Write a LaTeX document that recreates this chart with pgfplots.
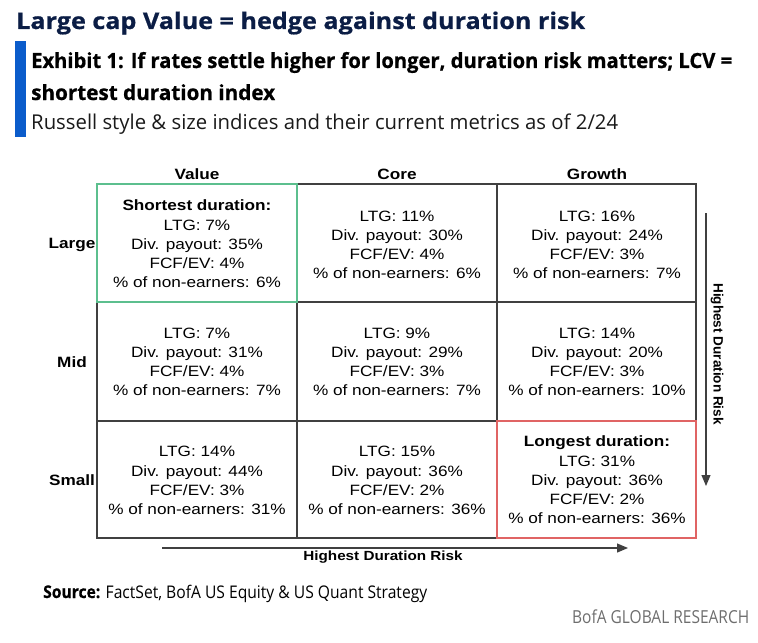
\documentclass[border=0pt]{standalone}
\usepackage{fontspec}
\setmainfont{Liberation Sans}
\newfontfamily\cellf[FakeStretch=1.15]{Liberation Sans}
\newfontfamily\osans{Open Sans}
\newfontfamily\osansh[BoldFeatures={FakeBold=0.7}]{Open Sans}
\usepackage{graphicx}
\usepackage{pgfplots}
\pgfplotsset{compat=1.18}
\usetikzlibrary{arrows.meta}
\definecolor{navy}{HTML}{0B1D45}
\definecolor{bofablue}{HTML}{0B5CCB}
\definecolor{gridgray}{HTML}{404040}
\definecolor{gridgreen}{HTML}{5CBF8E}
\definecolor{gridred}{HTML}{E06464}
\definecolor{txtgray}{HTML}{1A1A1A}
\definecolor{brandgray}{HTML}{6E6E6E}
\newcommand\fitw[2]{\resizebox{#1}{\height}{#2}}
\tikzset{
  cell/.style={align=center,inner sep=0,text=black,
    font=\cellf\fontsize{15}{19.3}\selectfont},
  head/.style={align=center,inner sep=0,text=black,
    font=\cellf\bfseries\fontsize{15}{19.3}\selectfont}}
\begin{document}
\begin{tikzpicture}
\begin{axis}[width=758bp,height=643bp,scale only axis,
  xmin=0,xmax=758,ymin=0,ymax=643,y dir=reverse,
  axis lines=none,clip=false]
\addplot[draw=none] coordinates {(0,0) (758,643)};
% titles
\node[anchor=base west,inner sep=0,text=navy] at (axis cs:16,29)
  {\fitw{569bp}{\osansh\bfseries\fontsize{23}{26}\selectfont Large cap Value = hedge against duration risk}};
\fill[bofablue] (axis cs:15,41) rectangle (axis cs:26,137);
\node[anchor=base west,inner sep=0,text=black] at (axis cs:31,68)
  {\fitw{701bp}{\osansh\bfseries\fontsize{21}{24}\selectfont Exhibit 1: If rates settle higher for longer, duration risk matters; LCV =}};
\node[anchor=base west,inner sep=0,text=black] at (axis cs:31,100)
  {\fitw{244bp}{\osansh\bfseries\fontsize{21}{24}\selectfont shortest duration index}};
\node[anchor=base west,inner sep=0,text=txtgray] at (axis cs:31,129)
  {\fitw{587bp}{\osans\fontsize{20.5}{24}\selectfont Russell style \& size indices and their current metrics as of 2/24}};
% grid
\draw[gridgray,line width=1.1bp] (axis cs:97,184) rectangle (axis cs:696,538);
\draw[gridgray,line width=1.1bp] (axis cs:297,184) -- (axis cs:297,538);
\draw[gridgray,line width=1.1bp] (axis cs:497,184) -- (axis cs:497,538);
\draw[gridgray,line width=1.1bp] (axis cs:97,302) -- (axis cs:696,302);
\draw[gridgray,line width=1.1bp] (axis cs:97,421) -- (axis cs:696,421);
\draw[gridgreen,line width=1.1bp] (axis cs:97,184) rectangle (axis cs:297,302);
\draw[gridred,line width=1.1bp] (axis cs:497,421) rectangle (axis cs:696,538);
% headers
\node[head] at (axis cs:197,174) {Value};
\node[head] at (axis cs:397,174) {Core};
\node[head] at (axis cs:597,174) {Growth};
\node[head] at (axis cs:72,245) {Large};
\node[head] at (axis cs:72,362) {Mid};
\node[head] at (axis cs:72,480) {Small};
% cells
\node[cell] at (axis cs:197,244) {\textbf{Shortest duration:}\\LTG: 7\%\\Div. payout: 35\%\\FCF/EV: 4\%\\\% of non-earners: 6\%};
\node[cell] at (axis cs:397,245) {LTG: 11\%\\Div. payout: 30\%\\FCF/EV: 4\%\\\% of non-earners: 6\%};
\node[cell] at (axis cs:597,245) {LTG: 16\%\\Div. payout: 24\%\\FCF/EV: 3\%\\\% of non-earners: 7\%};
\node[cell] at (axis cs:197,362) {LTG: 7\%\\Div. payout: 31\%\\FCF/EV: 4\%\\\% of non-earners: 7\%};
\node[cell] at (axis cs:397,362) {LTG: 9\%\\Div. payout: 29\%\\FCF/EV: 3\%\\\% of non-earners: 7\%};
\node[cell] at (axis cs:597,362) {LTG: 14\%\\Div. payout: 20\%\\FCF/EV: 3\%\\\% of non-earners: 10\%};
\node[cell] at (axis cs:197,480.5) {LTG: 14\%\\Div. payout: 44\%\\FCF/EV: 3\%\\\% of non-earners: 31\%};
\node[cell] at (axis cs:397,480.5) {LTG: 15\%\\Div. payout: 36\%\\FCF/EV: 2\%\\\% of non-earners: 36\%};
\node[cell] at (axis cs:597,480) {\textbf{Longest duration:}\\LTG: 31\%\\Div. payout: 36\%\\FCF/EV: 2\%\\\% of non-earners: 36\%};
% arrows
\draw[gridgray,line width=1.2bp,-{Triangle[length=11bp,width=9bp]}] (axis cs:162,548) -- (axis cs:628,548);
\node[head,font=\cellf\bfseries\fontsize{13.3}{16}\selectfont] at (axis cs:383,557.5) {Highest Duration Risk};
\draw[gridgray,line width=1.1bp,-{Triangle[length=11bp,width=9bp]}] (axis cs:706,213) -- (axis cs:706,486);
\node[inner sep=0,rotate=-90,font=\bfseries\fontsize{13.6}{16}\selectfont] at (axis cs:717,354) {Highest Duration Risk};
% footer
\node[anchor=base west,inner sep=0,text=black] at (axis cs:43,598)
  {\fitw{384bp}{\osans\fontsize{17.5}{20}\selectfont{\osansh\bfseries Source:} FactSet, BofA US Equity \& US Quant Strategy}};
\node[anchor=base west,inner sep=0,text=brandgray] at (axis cs:572,623)
  {\fitw{177bp}{\osans\fontsize{18}{20}\selectfont BofA GLOBAL RESEARCH}};
\end{axis}
\end{tikzpicture}
\end{document}
